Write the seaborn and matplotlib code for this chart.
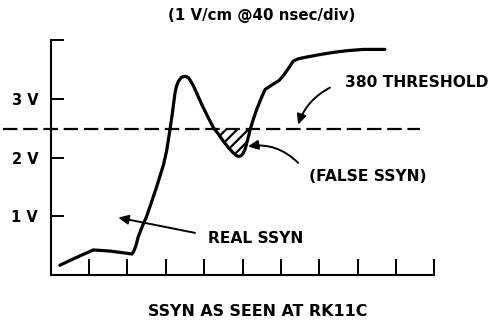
import matplotlib
matplotlib.use("Agg")
import matplotlib.pyplot as plt
import seaborn as sns
import pandas as pd

# Scope trace of SSYN (time in divisions, amplitude in volts)
time_div = [0.24, 0.63, 1.11, 1.55, 2.02, 2.11, 2.16, 2.22, 2.28, 2.40, 2.50,
            2.62, 2.76, 2.85, 2.94, 3.02, 3.11, 3.17, 3.24, 3.28, 3.33, 3.40,
            3.46, 3.52, 3.59, 3.65, 3.72, 3.83, 3.94, 4.09, 4.24, 4.37, 4.50,
            4.63, 4.76, 4.83, 4.89, 4.96, 5.02, 5.07, 5.11, 5.16, 5.20, 5.28,
            5.37, 5.48, 5.59, 5.80, 5.95, 6.06, 6.20, 6.32, 6.45, 6.59, 7.00,
            7.37, 7.75, 8.15, 8.71]
volts = [0.17, 0.29, 0.43, 0.41, 0.37, 0.36, 0.40, 0.50, 0.65, 0.85, 1.00,
         1.23, 1.50, 1.69, 1.88, 2.11, 2.48, 2.75, 3.10, 3.22, 3.30, 3.36,
         3.38, 3.38, 3.36, 3.30, 3.22, 3.06, 2.90, 2.70, 2.51, 2.40, 2.28,
         2.17, 2.08, 2.04, 2.02, 2.03, 2.08, 2.15, 2.25, 2.37, 2.48, 2.65,
         2.82, 3.00, 3.16, 3.25, 3.31, 3.39, 3.52, 3.64, 3.68, 3.70, 3.75,
         3.79, 3.82, 3.84, 3.84]

threshold = 2.48
y_ticks = [1, 2, 3, 4]
y_tick_labels = ["1 V", "2 V", "3 V", ""]
x_ticks = [1, 2, 3, 4, 5, 6, 7, 8, 9, 10]

title_top = "(1 V/cm @40 nsec/div)"
title_bottom = "SSYN AS SEEN AT RK11C"

trace = pd.DataFrame({"t": time_div, "v": volts})

sns.set_style("white")
plt.rcParams["font.family"] = ["DejaVu Sans"]
plt.rcParams["font.weight"] = "bold"
plt.rcParams["text.color"] = "black"
plt.rcParams["xtick.color"] = "black"
plt.rcParams["ytick.color"] = "black"
plt.rcParams["hatch.linewidth"] = 1.6

fig = plt.figure(figsize=(4.91, 3.29), dpi=100)
ax = fig.add_axes([0.1033, 0.1635, 0.7813, 0.7149])

sns.lineplot(data=trace, x="t", y="v", sort=False, color="black",
             linewidth=2.3, ax=ax, solid_capstyle="round", solid_joinstyle="round")

# hatched dip below the threshold (false SSYN)
dip = trace[(trace.t >= 4.0) & (trace.t <= 5.4)]
ax.fill_between(dip.t, dip.v, threshold, where=dip.v <= threshold,
                interpolate=True, facecolor="white", edgecolor="black",
                hatch="///", linewidth=0)

# threshold line, running past the left axis
ax.plot([-1.24, 9.63], [threshold, threshold], color="black", linewidth=1.6,
        dashes=(6.5, 2.6), clip_on=False)

ax.set_xlim(0, 10)
ax.set_ylim(0, 4)
ax.set_xticks(x_ticks)
ax.set_xticklabels([])
ax.set_yticks(y_ticks)
ax.set_yticklabels(y_tick_labels, fontsize=10.5, fontweight="bold", color="black")
ax.set_xlabel("")
ax.set_ylabel("")
for side in ("top", "right"):
    ax.spines[side].set_visible(False)
for side in ("left", "bottom"):
    ax.spines[side].set_linewidth(1.5)
    ax.spines[side].set_color("black")
ax.tick_params(axis="x", bottom=True, direction="in", length=11.5, width=1.4,
               color="black")
ax.tick_params(axis="y", left=True, direction="in", length=9.5, width=1.4,
               color="black", pad=9, labelcolor="black")

arrow = dict(arrowstyle="-|>,head_length=0.6,head_width=0.28", color="black",
             linewidth=1.4, shrinkA=0, shrinkB=0, mutation_scale=10)

ax.annotate("", xy=(6.45, 2.56), xytext=(7.28, 3.19),
            arrowprops=dict(arrow, connectionstyle="arc3,rad=0.2"))
ax.text(7.67, 3.28, "380 THRESHOLD", fontsize=11.2, fontweight="bold",
        ha="left", va="center", clip_on=False)

ax.annotate("", xy=(5.14, 2.19), xytext=(6.45, 1.91),
            arrowprops=dict(arrow, connectionstyle="arc3,rad=0.25"))
ax.text(8.26, 1.68, "(FALSE SSYN)", fontsize=11.2, fontweight="bold",
        ha="center", va="center", clip_on=False)

ax.annotate("", xy=(1.76, 0.98), xytext=(3.76, 0.72),
            arrowprops=dict(arrow, connectionstyle="arc3,rad=0"))
ax.text(4.10, 0.63, "REAL SSYN", fontsize=11.2, fontweight="bold",
        ha="left", va="center")

fig.text(262 / 491, 1 - 15.5 / 329, title_top, fontsize=10.8,
         fontweight="bold", ha="center", va="center")
fig.text(258 / 491, 1 - 312 / 329, title_bottom, fontsize=11.4,
         fontweight="bold", ha="center", va="center")

fig.savefig("out.png", dpi=100, facecolor="white")
